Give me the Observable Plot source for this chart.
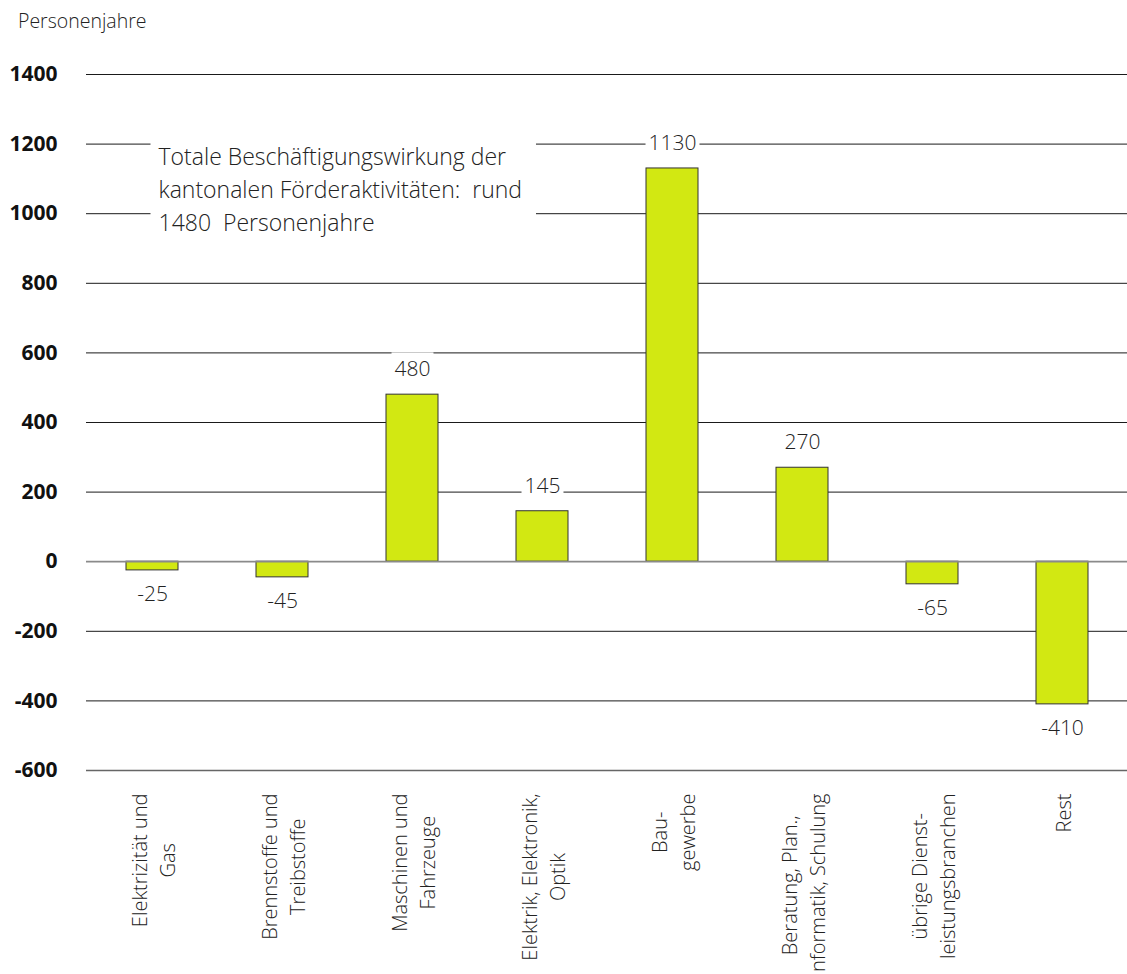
<!DOCTYPE html>
<html>
<head>
<meta charset="utf-8">
<script src="https://cdn.jsdelivr.net/npm/d3@7"></script>
<script src="https://cdn.jsdelivr.net/npm/@observablehq/plot@0.6"></script>
<style>
  body { margin: 0; background: #fff; font-family: "Open Sans", sans-serif; }
  #wrap { position: relative; width: 1127px; height: 974px; }
  #ylab { position: absolute; left: 18px; top: 10px; font-size: 19.5px; font-weight: 300; color: #222; line-height: 21px; }
  #chart svg { font-family: "Open Sans", sans-serif; }
</style>
</head>
<body>
<div id="wrap">
  <div id="ylab"></div>
  <div id="chart"></div>
</div>
<script>
// ---- data ----
const categories = [
  "Elektrizität und\nGas",
  "Brennstoffe und\nTreibstoffe",
  "Maschinen und\nFahrzeuge",
  "Elektrik, Elektronik,\nOptik",
  "Bau-\ngewerbe",
  "Beratung, Plan.,\nInformatik, Schulung",
  "übrige Dienst-\nleistungsbranchen",
  "Rest"
];
const values = [-25, -45, 480, 145, 1130, 270, -65, -410];
const yTicks = [-600, -400, -200, 0, 200, 400, 600, 800, 1000, 1200, 1400];
const yLabel = "Personenjahre";
const annotation = "Totale Beschäftigungswirkung der\nkantonalen Förderaktivitäten:\u00a0 rund\n1480\u00a0 Personenjahre";

// ---- layout ----
const W = 1127, H = 974, mt = 74, mb = 204, ml = 86, mr = 0;
const catFontSize = 20;
const catFont = `300 ${catFontSize}px 'Open Sans'`;
const catLabelTop = 793;

document.getElementById("ylab").textContent = yLabel;

const rows = categories.map((c, i) => ({cat: c, value: values[i]}));

const yScale = Plot.scale({y: {domain: [-600, 1400], range: [H - mb, mt]}});
const ctx = document.createElement("canvas").getContext("2d");
ctx.font = catFont;
const catRows = categories.map(c => {
  const w = d3.max(c.split("\n"), l => ctx.measureText(l).width);
  return {cat: c, y: yScale.invert(catLabelTop + w / 2)};
});

const chart = Plot.plot({
  width: W,
  height: H,
  marginTop: mt,
  marginBottom: mb,
  marginLeft: ml,
  marginRight: mr,
  x: {domain: categories, paddingInner: 0.6, paddingOuter: 0.3, axis: null},
  y: {domain: [-600, 1400], axis: null},
  marks: [
    Plot.ruleY(yTicks.filter(d => d !== 0 && d !== -600), {stroke: "#1a1a1a", strokeWidth: 1}),
    Plot.ruleY([-600], {stroke: "#666", strokeWidth: 1.5}),
    Plot.barY(rows, {x: "cat", y: "value", fill: "#d2e812", stroke: "#333", strokeWidth: 1}),
    Plot.ruleY([0], {stroke: "#8a8a8a", strokeWidth: 1.8}),
    Plot.text(yTicks, {y: d => d, text: d => String(d), frameAnchor: "left", textAnchor: "end", dx: -29,
      fontWeight: "bold", fontSize: 21, fill: "#111"}),
    Plot.text(rows.filter(d => d.value >= 0), {x: "cat", y: "value", text: d => String(d.value), dy: -25,
      fontSize: 21, fontWeight: 300, fill: "#222"}),
    Plot.text(rows.filter(d => d.value < 0), {x: "cat", y: "value", text: d => String(d.value), dy: 24,
      fontSize: 21, fontWeight: 300, fill: "#222"}),
    Plot.text([annotation], {frameAnchor: "top-left", textAnchor: "start", lineAnchor: "top", dx: 72, dy: 67,
      lineHeight: 1.43, fontSize: 23, fontWeight: 300, fill: "#222"}),
    Plot.text(catRows, {x: "cat", y: "y", text: "cat", rotate: -90, textAnchor: "middle", lineAnchor: "middle",
      lineHeight: 1.4, fontSize: catFontSize, fontWeight: 300, fill: "#222"})
  ]
});

document.getElementById("chart").append(chart);

// white background boxes behind value labels and the annotation
const textGroups = chart.querySelectorAll('g[aria-label="text"]');
const pads = {1: [3, 2], 2: [3, 2], 3: [8, 5]};
[1, 2, 3].forEach(gi => {
  const g = textGroups[gi];
  if (!g) return;
  g.querySelectorAll("text").forEach(t => {
    const bb = t.getBBox();
    const [px, py] = pads[gi];
    const r = document.createElementNS("http://www.w3.org/2000/svg", "rect");
    r.setAttribute("x", bb.x - px);
    r.setAttribute("y", bb.y - py);
    r.setAttribute("width", bb.width + 2 * px + (gi === 3 ? 6 : 0));
    r.setAttribute("height", bb.height + 2 * py);
    r.setAttribute("fill", "white");
    r.setAttribute("stroke", "none");
    const tr = t.getAttribute("transform");
    if (tr) r.setAttribute("transform", tr);
    t.parentNode.insertBefore(r, t);
  });
});
</script>
</body>
</html>
